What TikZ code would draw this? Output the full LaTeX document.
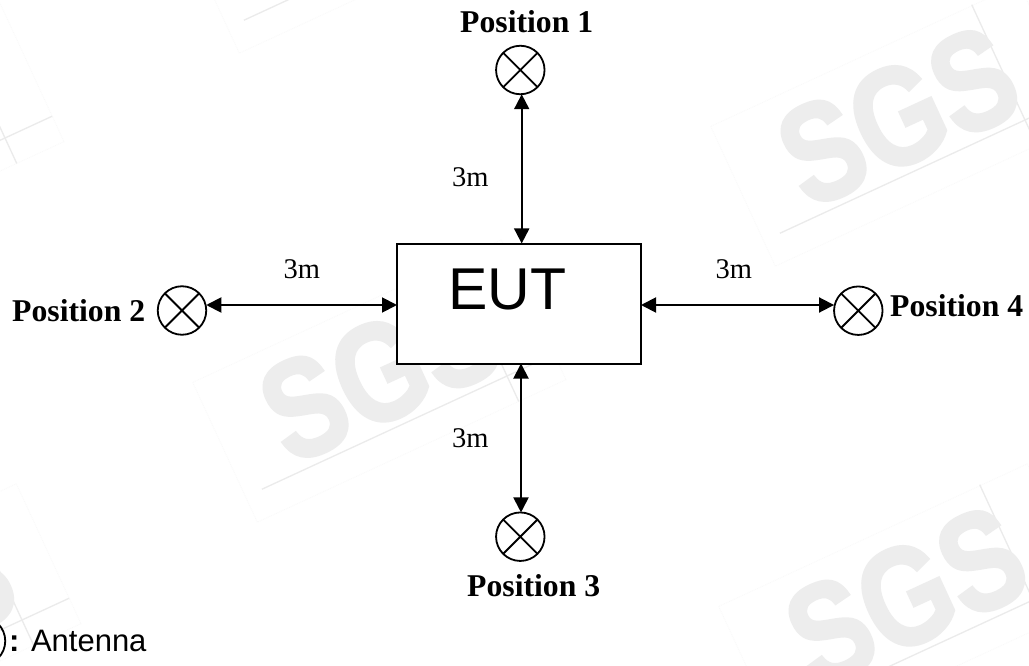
\documentclass[tikz,border=0pt]{standalone}
\usepackage{fontspec}
\setmainfont{Liberation Serif}
\newfontfamily\arialfont{Liberation Sans}
\newfontfamily\wmfont[BoldFont={Liberation Sans Bold},BoldFeatures={FakeBold=2.2}]{Liberation Sans}
\usetikzlibrary{arrows.meta}
\definecolor{wmfill}{HTML}{EDEDED}
\definecolor{wmline}{HTML}{EBEBEB}
\definecolor{wmdot}{HTML}{F9F9F9}
\tikzset{
  antenna/.style={circle,draw,line width=1.8pt,minimum size=48.5pt,inner sep=0pt,outer sep=0pt,
    path picture={\draw[line width=1.8pt] (path picture bounding box.north west)--(path picture bounding box.south east)
      (path picture bounding box.north east)--(path picture bounding box.south west);}},
  eutbox/.style={draw,fill=white,line width=2pt,minimum width=244pt,minimum height=120pt,inner sep=0pt,outer sep=0pt},
  conn/.style={line width=1.9pt,{Triangle[length=15pt,width=15pt]}-{Triangle[length=15pt,width=15pt]}},
  poslabel/.style={anchor=base west,inner sep=0pt,font=\fontsize{31.7}{34}\selectfont\bfseries},
  dist/.style={anchor=base west,inner sep=0pt,font=\fontsize{28.5}{30}\selectfont},
  wmtext/.style={text=wmfill,inner sep=0pt,anchor=center,rotate=24.8,xscale=.82,
    font=\fontsize{140}{140}\selectfont\wmfont\bfseries},
  wmsolid/.style={wmline,line width=1.3pt},
  wmframe/.style={wmdot,line width=.8pt,densely dotted}
}
\newcommand{\wmark}[3]{%
  \begin{scope}[shift={(#1,#2)}]
    \begin{scope}[rotate=24.8]
      \draw[wmframe] (-288,-126) rectangle (52,28);
      \draw[wmsolid] (-270,0) -- (52,0) (0,-127) -- (0,28);
    \end{scope}
    \ifx#3y\node[wmtext] at (-127,-4) {SGS};\fi
  \end{scope}}
\begin{document}
\begin{tikzpicture}[x=1pt,y=-1pt]
  \clip (0,0) rectangle (1029,666);
  \fill[white] (0,0) rectangle (1029,666);
  \wmark{507}{376}{y}
  \wmark{1025}{120}{y}
  \wmark{1033}{600}{y}
  \wmark{22}{620}{y}
  \wmark{5}{138}{n}
  \wmark{489}{-93}{n}

  \node[eutbox] (eut) at (519,303.5) {};
  \node[anchor=base west,inner sep=0pt,font=\fontsize{59}{60}\selectfont\arialfont] (eutlabel) at (448,309) {EUT};

  \node[antenna] (p1) at (520.3,70) {};
  \node[antenna] (p2) at (182,310.5) {};
  \node[antenna] (p3) at (520.3,536.7) {};
  \node[antenna] (p4) at (858.3,310.7) {};
  \node[antenna] (legend) at (-19,641) {};

  \node[poslabel] (t1) at (460,33) {Position 1};
  \node[poslabel] (t2) at (12,321) {Position 2};
  \node[poslabel] (t3) at (467,596) {Position 3};
  \node[poslabel] (t4) at (890,316) {Position 4};

  \draw[conn] ([xshift=2.7pt]eut.north) -- ([xshift=1.4pt]p1.south);
  \draw[conn] ([xshift=2pt]eut.south) -- ([xshift=.7pt]p3.north);
  \draw[conn] ([yshift=-1.5pt]eut.west) -- ([yshift=5.5pt]p2.east);
  \draw[conn] ([yshift=-1.5pt]eut.east) -- ([yshift=5.7pt]p4.west);

  \node[dist] (d1) at (452,186) {3m};
  \node[dist] (d2) at (283.5,278) {3m};
  \node[dist] (d3) at (452,447) {3m};
  \node[dist] (d4) at (715.5,278) {3m};

  \node[anchor=base west,inner sep=0pt,font=\fontsize{31}{33}\selectfont\arialfont] (leg) at (9,651) {\textbf{:} Antenna};
\end{tikzpicture}
\end{document}
